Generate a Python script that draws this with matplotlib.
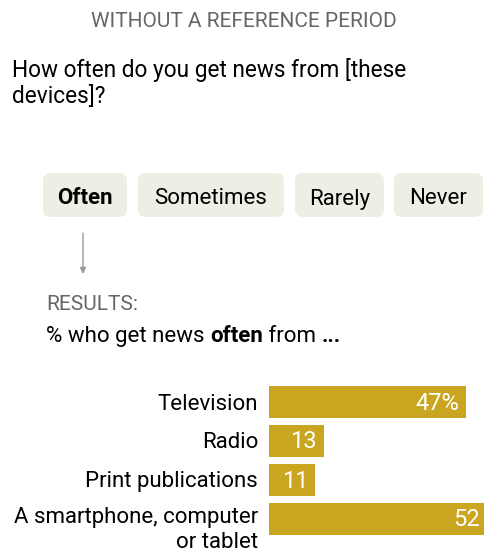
import matplotlib
matplotlib.use("Agg")
import matplotlib.pyplot as plt
from matplotlib.patches import FancyBboxPatch, FancyArrowPatch
from matplotlib.transforms import IdentityTransform

# ---- data ----
title = "WITHOUT A REFERENCE PERIOD"
question = "How often do you get news from [these\ndevices]?"
options = ["Often", "Sometimes", "Rarely", "Never"]
selected = "Often"
devices = ["Television", "Radio", "Print publications", "A smartphone, computer\nor tablet"]
often_pct = [47, 13, 11, 52]

W, H = 484, 552
DPI = 100
FONT = "Roboto"
BAR = "#C9A520"
PILL = "#EFEEE4"
GRAY = "#666666"

plt.rcParams["font.family"] = [FONT, "DejaVu Sans"]

fig = plt.figure(figsize=(W / DPI, H / DPI), dpi=DPI)
px = IdentityTransform()


def Y(p):
    """Top-down pixel row -> display y."""
    return H - p


# heading
fig.text(244, Y(27), title, transform=px, ha="center", va="baseline",
         fontsize=15, color=GRAY)

# question, one text per line
for k, line in enumerate(question.split("\n")):
    fig.text(12, Y(77 + 26 * k), line, transform=px, ha="left",
             va="baseline", fontsize=16.3, color="black")

# answer option pills
pill_boxes = [(43, 127), (138, 284), (295, 384), (394, 483)]
pill_top, pill_bot = 173, 217
for name, (x0, x1) in zip(options, pill_boxes):
    box = FancyBboxPatch((x0, Y(pill_bot)), x1 - x0, pill_bot - pill_top,
                         boxstyle="round,pad=0,rounding_size=8",
                         transform=px, facecolor=PILL, edgecolor="none")
    fig.patches.append(box)
    fig.text((x0 + x1) / 2, Y(204.5), name, transform=px, ha="center",
             va="baseline", fontsize=16,
             fontweight="bold" if name == selected else "normal",
             color="black")

# arrow from the selected option down to the results
arr = FancyArrowPatch((83, Y(233)), (83, Y(274)), transform=px,
                      arrowstyle="-|>", mutation_scale=9, color="#9a9a9a",
                      lw=1, shrinkA=0, shrinkB=0)
fig.patches.append(arr)

fig.text(46, Y(310), "RESULTS:", transform=px, ha="left", va="baseline",
         fontsize=15, color=GRAY)

# subtitle with emphasised answer word
renderer = fig.canvas.get_renderer()
parts = [("% who get news ", "normal"), (selected.lower(), "bold"),
         (" from ", "normal"), ("...", "bold")]
x = 46
for txt, wt in parts:
    t = fig.text(x, Y(342), txt, transform=px, ha="left", va="baseline",
                 fontsize=16, fontweight=wt, color="black")
    x = t.get_window_extent(renderer).x1

# ---- bar chart ----
scale = 4.2                      # pixels per percentage point
ax_left, ax_right = 269, W
row_top, row_h = 382.5, 39
n = len(devices)
ax = fig.add_axes([ax_left / W, (H - (row_top + n * row_h)) / H,
                   (ax_right - ax_left) / W, n * row_h / H])
ax.set_xlim(0, (ax_right - ax_left) / scale)
ax.set_ylim(n - 0.5, -0.5)
ax.barh(range(n), often_pct, height=0.8, color=BAR)
ax.axis("off")

for i, (name, v) in enumerate(zip(devices, often_pct)):
    lines = name.split("\n")
    first = -7.5 + 3.5 * (len(lines) - 1)
    for j, line in enumerate(lines):
        ax.annotate(line, xy=(0, i), xycoords=("axes fraction", "data"),
                    xytext=(-11, first - 25 * j), textcoords="offset pixels",
                    ha="right", va="baseline", fontsize=16, color="black",
                    annotation_clip=False)
    label = f"{v}%" if i == 0 else f"{v}"
    ax.annotate(label, xy=(v, i), xytext=(-7, -7.5),
                textcoords="offset pixels", ha="right", va="baseline",
                fontsize=17, color="white", annotation_clip=False)

fig.savefig("out.png", dpi=DPI)
